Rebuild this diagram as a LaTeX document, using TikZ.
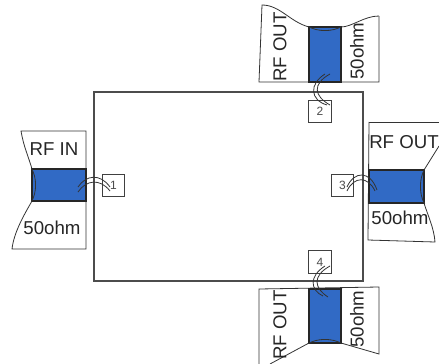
\documentclass[tikz,border=0pt]{standalone}
\usepackage{fontspec}
\setmainfont{Liberation Sans}
\begin{document}
\begin{tikzpicture}[x=0.75pt,y=-0.75pt,
    sheet/.style={draw=black!80,line width=0.6pt},
    strip/.style={draw=black!85,fill=stripblue,line width=1pt,minimum width=0pt,minimum height=0pt,inner sep=0pt},
    port/.style={draw=black!75,fill=white,line width=0.7pt,minimum size=17pt,inner sep=0pt,text=black!70,font=\fontsize{9}{9}\selectfont},
    bond/.style={draw=black!80,line width=0.6pt},
    lbl/.style={font=\fontsize{14}{14}\selectfont,text=black!85,inner sep=0pt}]
  \definecolor{stripblue}{RGB}{49,106,197}
  \useasboundingbox (0,0) rectangle (439,364);
  % board
  \node[draw=black!70,line width=0.8pt,minimum width=201.75pt,minimum height=141.75pt,inner sep=0pt] (board) at (228.5,186.5) {};
  % substrate pieces
  \draw[sheet] (32,169) .. controls (28,155) and (24,148) .. (21,131) -- (86,131) -- (86,249) -- (12,249)
    .. controls (14,232) and (24,215) .. (32,201);
  \draw[sheet] (309,27) .. controls (290,22) and (280,5) .. (262,5) -- (259,82) -- (379,82) -- (379,16);
  \draw[sheet] (341,27) .. controls (352,27) and (364,16) .. (379,16);
  \draw[sheet] (369,122) -- (439,122);
  \draw[sheet] (369,122) -- (368,240) -- (435,242) .. controls (434,228) and (428,216) .. (424,203);
  \draw[sheet] (424,170) -- (439,146);
  \draw[sheet] (309,343) -- (270,364);
  \draw[sheet] (259,364) -- (259,289) -- (379,287) -- (379,354) -- (341,343);
  % microstrips
  \node[strip,minimum width=40.5pt,minimum height=24pt] (stripa) at (59,185) {};
  \node[strip,minimum width=24pt,minimum height=41.25pt] (stripb) at (325,54.5) {};
  \node[strip,minimum width=41.25pt,minimum height=24.75pt] (stripc) at (396.5,186.5) {};
  \node[strip,minimum width=24pt,minimum height=40.5pt] (stripd) at (325,316) {};
  \draw[bond] (stripa.north west) .. controls (37,177) and (37,193) .. (stripa.south west);
  \draw[bond] (stripb.north west) .. controls (317,32) and (333,32) .. (stripb.north east);
  \draw[bond] (stripc.north east) .. controls (419,178) and (419,195) .. (stripc.south east);
  \draw[bond] (stripd.south west) .. controls (317,338) and (333,338) .. (stripd.south east);
  % ports
  \node[port] (pa) at (113.5,185.5) {1};
  \node[port] (pb) at (320,111.5) {2};
  \node[port] (pc) at (342.5,185.5) {3};
  \node[port] (pd) at (320,262) {4};
  % wire bonds
  \coordinate (aa) at (78,187); \coordinate (ab) at (78,192);
  \coordinate (ac) at (110,187); \coordinate (ad) at (110,191);
  \draw[bond] (aa) .. controls (86,175) and (100,173) .. (ac);
  \draw[bond] (ab) .. controls (86,180) and (100,178) .. (ad);
  \coordinate (ba) at (330,74); \coordinate (bb) at (325,74);
  \coordinate (bc) at (330,105); \coordinate (bd) at (327,105);
  \draw[bond] (ba) .. controls (312,84) and (314,96) .. (bc);
  \draw[bond] (bb) .. controls (309,84) and (310,100) .. (bd);
  \coordinate (ca) at (377,190); \coordinate (cb) at (375,191);
  \coordinate (cc) at (347,187); \coordinate (cd) at (347,191);
  \draw[bond] (ca) .. controls (370,170) and (354,171) .. (cc);
  \draw[bond] (cb) .. controls (368,176) and (354,176) .. (cd);
  \coordinate (da) at (330,266); \coordinate (db) at (325,266);
  \coordinate (dc) at (328,297); \coordinate (dd) at (323,296);
  \draw[bond] (da) .. controls (312,276) and (314,288) .. (dc);
  \draw[bond] (db) .. controls (309,276) and (310,290) .. (dd);
  % labels
  \node[lbl] (la) at (54,149) {RF IN};
  \node[lbl] (lb) at (52,228) {50ohm};
  \node[lbl,rotate=90] (lc) at (280,47) {RF OUT};
  \node[lbl,rotate=90] (ld) at (357,51) {50ohm};
  \node[lbl] (le) at (404,142) {RF OUT};
  \node[lbl] (lf) at (400,218) {50ohm};
  \node[lbl,rotate=90] (lg) at (280,325) {RF OUT};
  \node[lbl,rotate=90] (lh) at (357,319) {50ohm};
\end{tikzpicture}
\end{document}
